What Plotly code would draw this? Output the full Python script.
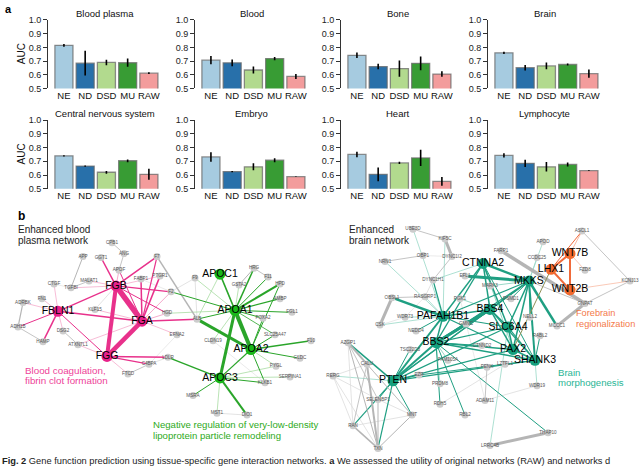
import plotly.graph_objects as go

W, H = 640, 471

# ---------------- panel a data ----------------
methods = ["NE", "ND", "DSD", "MU", "RAW"]
method_colors = ["#a6cbe0", "#2870aa", "#b2da8e", "#389c34", "#f39c9c"]
tissues = ["Blood plasma", "Blood", "Bone", "Brain",
           "Central nervous system", "Embryo", "Heart", "Lymphocyte"]
auc_blood_plasma = [0.815, 0.685, 0.690, 0.688, 0.612]
err_blood_plasma = [0.010, 0.090, 0.020, 0.030, 0.007]
auc_blood = [0.707, 0.687, 0.635, 0.718, 0.588]
err_blood = [0.030, 0.025, 0.025, 0.012, 0.018]
auc_bone = [0.742, 0.660, 0.645, 0.684, 0.605]
err_bone = [0.020, 0.020, 0.060, 0.050, 0.020]
auc_brain = [0.760, 0.652, 0.665, 0.675, 0.608]
err_brain = [0.008, 0.020, 0.025, 0.008, 0.030]
auc_cns = [0.740, 0.665, 0.620, 0.704, 0.605]
err_cns = [0.004, 0.004, 0.010, 0.010, 0.040]
auc_embryo = [0.732, 0.625, 0.660, 0.708, 0.588]
err_embryo = [0.035, 0.005, 0.025, 0.015, 0.002]
auc_heart = [0.750, 0.605, 0.688, 0.725, 0.553]
err_heart = [0.020, 0.050, 0.008, 0.060, 0.032]
auc_lymphocyte = [0.743, 0.685, 0.660, 0.677, 0.632]
err_lymphocyte = [0.015, 0.027, 0.035, 0.015, 0.003]
auc_values = [auc_blood_plasma, auc_blood, auc_bone, auc_brain,
              auc_cns, auc_embryo, auc_heart, auc_lymphocyte]
auc_errors = [err_blood_plasma, err_blood, err_bone, err_brain,
              err_cns, err_embryo, err_heart, err_lymphocyte]
auc_ticks = [0.5, 0.6, 0.7, 0.8, 0.9, 1.0]

# ---------------- panel b: enhanced blood plasma network ----------------
plasma_names = ["FGB", "FGA", "FGG", "FBLN1", "APOC1", "APOA1", "APOA2", "APOC3",
                "CPB1", "ANG", "APP", "GGT1", "F7", "APOF", "FABP1", "PTGR1", "CTGF",
                "TGFBI", "MALAT1", "F9", "F2", "ADRBK", "FN1", "KLF15", "HGD", "ALB",
                "HRG", "F11", "GSTA2", "HPD", "AMBP", "FGL1", "FOXA2", "ADH1B", "HAMP",
                "DSG2", "ATXN7L1", "EFNA2", "CLDN19", "SLC25A47", "F10", "LDLR", "C4BPA",
                "FTCD", "GLDC", "PYGL", "SERPINA1", "KLKB1", "MSRA", "MST1", "DIO1"]
plasma_x = [116, 142, 107, 58, 220, 235, 251, 220,
            112, 124, 83, 101, 157, 119, 141, 160, 54,
            71, 89, 195, 171, 23, 42, 95, 167, 197,
            254, 268, 239, 280, 280, 292, 263, 18, 43,
            63, 78, 177, 213, 275, 311, 168, 149,
            128, 300, 276, 290, 265, 193, 217, 247]
plasma_y = [287, 323, 359, 313, 275, 312, 352, 381,
            243, 254, 257, 258, 257, 271, 280, 277, 285,
            289, 282, 279, 293, 304, 300, 311, 315, 321,
            269, 278, 286, 285, 300, 314, 320, 329, 344,
            333, 347, 337, 343, 337, 343, 360, 367,
            377, 361, 369, 380, 386, 399, 417, 419]
plasma_group = ["pink"] * 4 + ["green"] * 4 + ["gray"] * 43
plasma_edges = [
    ("FGB", "FGA", 5.5, "pink"), ("FGB", "FGG", 4.0, "pink"), ("FGA", "FGG", 4.5, "pink"),
    ("FBLN1", "FGA", 1.5, "pink"), ("FBLN1", "FGB", 1.2, "pink"), ("FBLN1", "FGG", 1.0, "pink"),
    ("FBLN1", "ADH1B", 1.0, "pink"), ("FBLN1", "HAMP", 1.5, "pink"), ("FBLN1", "CTGF", 0.8, "lpink"),
    ("FBLN1", "FN1", 0.8, "lpink"), ("FBLN1", "ADRBK", 0.8, "lpink"), ("FBLN1", "DSG2", 0.8, "lpink"),
    ("FGB", "F7", 1.5, "pink"), ("FGB", "GGT1", 1.5, "pink"), ("FGB", "APOF", 1.0, "lpink"),
    ("FGB", "TGFBI", 0.8, "lpink"), ("FGB", "MALAT1", 0.8, "lpink"), ("FGB", "F2", 1.2, "pink"),
    ("FGB", "HGD", 1.0, "pink"), ("FGB", "PTGR1", 0.8, "lpink"), ("FGA", "F7", 1.2, "pink"),
    ("FGA", "PTGR1", 1.5, "pink"), ("FGA", "FABP1", 1.5, "pink"), ("FGA", "F2", 1.0, "lpink"),
    ("FGA", "HGD", 1.0, "lpink"), ("FGA", "ALB", 1.5, "pink"), ("FGA", "APOF", 1.0, "pink"),
    ("FGA", "EFNA2", 0.8, "lpink"), ("FGA", "ATXN7L1", 0.8, "lpink"), ("FGA", "KLF15", 0.8, "lpink"),
    ("FGG", "LDLR", 1.5, "pink"), ("FGG", "C4BPA", 1.2, "pink"), ("FGG", "FTCD", 0.8, "lpink"),
    ("FGG", "ATXN7L1", 0.8, "lpink"),
    ("CPB1", "ANG", 0.8, "gray"), ("ANG", "APOF", 0.8, "gray"), ("APP", "TGFBI", 1.0, "gray"),
    ("CTGF", "TGFBI", 0.6, "lgray"), ("MALAT1", "TGFBI", 0.8, "gray"), ("ADRBK", "ADH1B", 1.2, "gray"),
    ("ADH1B", "HAMP", 0.8, "gray"), ("DSG2", "ATXN7L1", 0.8, "gray"), ("F7", "ALB", 1.5, "gray"),
    ("F9", "F2", 0.8, "lgray"), ("F9", "ALB", 0.8, "lgray"), ("KLF15", "FGB", 0.8, "lgray"),
    ("C4BPA", "FTCD", 0.8, "gray"), ("C4BPA", "LDLR", 0.8, "lgray"), ("EFNA2", "C4BPA", 0.6, "lgray"),
    ("FABP1", "F2", 0.6, "lgray"), ("HRG", "GSTA2", 1.0, "gray"), ("HRG", "F11", 0.8, "gray"),
    ("MST1", "DIO1", 0.8, "lgray"), ("CLDN19", "KLKB1", 0.6, "lgray"),
    ("APOA1", "APOA2", 4.0, "green"), ("APOA1", "APOC3", 3.0, "green"), ("ALB", "APOA2", 3.0, "green"),
    ("APOA2", "APOC3", 1.2, "green"), ("APOC1", "APOA1", 1.5, "green"), ("APOC1", "ALB", 0.8, "lgreen"),
    ("APOC1", "APOA2", 0.8, "lgreen"), ("APOA1", "HRG", 1.5, "green"), ("APOA1", "HPD", 2.0, "green"),
    ("APOA1", "AMBP", 1.2, "green"), ("APOA1", "FGL1", 1.0, "green"), ("APOA1", "F11", 1.0, "green"),
    ("APOA1", "GSTA2", 0.8, "lgreen"), ("APOA1", "F2", 1.0, "green"), ("APOA1", "F9", 0.8, "lgreen"),
    ("APOA1", "HGD", 0.8, "lgreen"), ("APOA1", "ALB", 1.0, "green"), ("APOA1", "FOXA2", 1.0, "green"),
    ("APOA1", "CLDN19", 0.8, "lgreen"), ("APOA1", "SLC25A47", 0.8, "green"), ("APOA2", "F10", 1.5, "green"),
    ("APOA2", "GLDC", 1.0, "green"), ("APOA2", "SLC25A47", 1.0, "green"), ("APOA2", "FOXA2", 1.0, "green"),
    ("APOA2", "HPD", 1.0, "green"), ("APOA2", "PYGL", 0.8, "lgreen"), ("APOA2", "KLKB1", 1.0, "green"),
    ("APOC3", "LDLR", 1.5, "green"), ("APOC3", "MSRA", 1.0, "green"), ("APOC3", "MST1", 0.8, "lgreen"),
    ("APOC3", "DIO1", 2.0, "green"), ("APOC3", "KLKB1", 1.0, "green"), ("APOC3", "SERPINA1", 0.8, "lgreen"),
    ("APOC3", "PYGL", 0.8, "lgreen"),
]

# ---------------- panel b: enhanced brain network ----------------
brain_names = ["CTNNA2", "MKKS", "PAFAH1B1", "BBS4", "SLC6A4", "BBS2", "PAX2", "SHANK3", "PTEN",
               "WNT7B", "LHX1", "WNT2B",
               "UBE3D", "KIF5C", "OBP1", "NRN1", "DYNC1I2", "APOD", "FARP1", "CCDC25", "ASCL1",
               "FZD8", "KCNJ13", "DYNC1H1", "EFL1", "MARK3", "OBSL1", "RASGRP1", "PGK1", "PSMD1",
               "GNPAT", "WDR73", "CSK", "NELL2", "MCCC1", "GMNC", "NEDD4", "TSC22D3", "CTNND2",
               "RABL2", "AZGP1", "CALU", "FAM105A", "PENK", "LZTFL1", "EZR", "RERG", "PRDM8",
               "SELENBP1", "ADAM11", "WDR19", "RDH5", "RBL2", "MNT", "RAN", "THAP10", "LRRC4B", "TXN"]
brain_x = [483, 529, 443, 490, 508, 436, 513, 535, 393,
           570, 551, 570,
           413, 445, 423, 385, 452, 543, 501, 537, 582,
           585, 630, 433, 465, 490, 392, 425, 460, 511,
           585, 405, 380, 530, 557, 466, 416, 410, 482,
           540, 348, 367, 448, 487, 505, 419, 333, 440,
           378, 485, 537, 440, 465, 412, 353, 548, 490, 378]
brain_y = [264, 282, 318, 311, 329, 345, 352, 363, 384,
           254, 270, 291,
           229, 239, 256, 262, 257, 242, 251, 258, 231,
           271, 282, 281, 277, 287, 299, 298, 300, 300,
           305, 319, 327, 319, 328, 326, 333, 352, 348,
           338, 345, 367, 363, 370, 367, 378, 379, 387,
           403, 404, 389, 408, 419, 419, 430, 437, 450, 453]
brain_group = ["teal"] * 9 + ["orange"] * 3 + ["gray"] * 46
brain_edges = [
    ("CTNNA2", "MKKS", 2.5, "teal"), ("CTNNA2", "BBS4", 1.5, "teal"), ("CTNNA2", "SLC6A4", 1.5, "teal"),
    ("CTNNA2", "PAFAH1B1", 1.5, "teal"), ("CTNNA2", "BBS2", 1.2, "teal"), ("CTNNA2", "PAX2", 1.0, "lteal"),
    ("CTNNA2", "SHANK3", 1.0, "teal"), ("MKKS", "BBS4", 1.5, "teal"), ("MKKS", "SLC6A4", 1.5, "teal"),
    ("MKKS", "PAX2", 1.5, "teal"), ("MKKS", "SHANK3", 2.0, "teal"), ("MKKS", "BBS2", 1.2, "teal"),
    ("MKKS", "PAFAH1B1", 1.2, "teal"), ("MKKS", "PTEN", 1.2, "teal"), ("PAFAH1B1", "BBS4", 1.5, "teal"),
    ("PAFAH1B1", "BBS2", 1.5, "teal"), ("PAFAH1B1", "PTEN", 2.0, "teal"), ("PAFAH1B1", "SLC6A4", 1.2, "teal"),
    ("PAFAH1B1", "PAX2", 1.2, "teal"), ("BBS4", "BBS2", 3.0, "teal"), ("BBS4", "SLC6A4", 1.5, "teal"),
    ("BBS4", "PAX2", 1.5, "teal"), ("BBS4", "PTEN", 1.2, "teal"), ("BBS4", "SHANK3", 1.2, "teal"),
    ("BBS2", "PTEN", 2.0, "teal"), ("BBS2", "PAX2", 1.5, "teal"), ("BBS2", "SHANK3", 1.5, "teal"),
    ("BBS2", "SLC6A4", 1.2, "teal"), ("PTEN", "SHANK3", 1.2, "teal"), ("PTEN", "PAX2", 1.2, "teal"),
    ("PTEN", "SLC6A4", 1.2, "teal"), ("PAX2", "SHANK3", 1.5, "teal"), ("PAX2", "SLC6A4", 1.5, "teal"),
    ("SLC6A4", "SHANK3", 1.2, "teal"),
    ("EFL1", "MKKS", 3.0, "teal"), ("PAFAH1B1", "OBSL1", 2.5, "teal"), ("PAFAH1B1", "DYNC1H1", 1.2, "teal"),
    ("PAFAH1B1", "UBE3D", 0.8, "lteal"), ("PAFAH1B1", "NRN1", 0.8, "lteal"), ("PAFAH1B1", "WDR73", 0.8, "lteal"),
    ("PAFAH1B1", "CSK", 0.8, "lteal"), ("PAFAH1B1", "NEDD4", 1.0, "teal"), ("PAFAH1B1", "RASGRP1", 0.8, "lteal"),
    ("CTNNA2", "DYNC1H1", 0.8, "lteal"), ("KIF5C", "PAFAH1B1", 0.8, "lteal"), ("MKKS", "CCDC25", 0.8, "lteal"),
    ("MKKS", "APOD", 0.8, "lteal"), ("MKKS", "PSMD1", 1.0, "teal"), ("MKKS", "NELL2", 1.0, "teal"),
    ("MKKS", "MCCC1", 2.5, "teal"), ("MKKS", "MARK3", 1.0, "lteal"), ("BBS4", "GMNC", 3.0, "teal"),
    ("BBS4", "PGK1", 1.0, "lteal"), ("BBS2", "GMNC", 2.5, "teal"), ("BBS2", "THAP10", 1.0, "teal"),
    ("BBS2", "RDH5", 1.0, "teal"), ("BBS2", "RBL2", 1.0, "teal"), ("BBS2", "FAM105A", 1.0, "lteal"),
    ("BBS2", "CTNND2", 1.0, "teal"), ("BBS2", "PRDM8", 0.8, "lteal"), ("PTEN", "EZR", 1.2, "teal"),
    ("PTEN", "AZGP1", 1.5, "teal"), ("PTEN", "RERG", 0.8, "lteal"), ("PTEN", "RAN", 1.2, "teal"),
    ("PTEN", "TXN", 1.2, "teal"), ("PTEN", "MNT", 1.0, "teal"), ("PTEN", "SELENBP1", 1.0, "teal"),
    ("PTEN", "TSC22D3", 1.0, "teal"), ("SHANK3", "WDR19", 0.8, "lteal"), ("SHANK3", "RABL2", 1.0, "teal"),
    ("SLC6A4", "LRRC4B", 0.8, "lteal"), ("EZR", "SHANK3", 1.0, "teal"),
    ("UBE3D", "KIF5C", 0.8, "gray"), ("KIF5C", "DYNC1I2", 3.0, "gray"), ("OBP1", "NRN1", 0.8, "gray"),
    ("OBP1", "DYNC1I2", 0.6, "lgray"), ("DYNC1I2", "DYNC1H1", 0.8, "gray"), ("FARP1", "GNPAT", 3.5, "gray"),
    ("GNPAT", "MCCC1", 3.0, "gray"), ("ASCL1", "KCNJ13", 0.8, "gray"), ("KCNJ13", "GNPAT", 0.8, "gray"),
    ("MKKS", "GNPAT", 0.8, "gray"), ("CSK", "OBSL1", 3.0, "gray"), ("CSK", "WDR73", 0.6, "lgray"),
    ("OBSL1", "RASGRP1", 0.8, "gray"), ("RASGRP1", "DYNC1H1", 0.8, "lgray"), ("WDR73", "RASGRP1", 0.6, "lgray"),
    ("AZGP1", "CALU", 2.0, "gray"), ("AZGP1", "TXN", 1.0, "gray"), ("AZGP1", "RAN", 0.8, "lgray"),
    ("AZGP1", "SELENBP1", 0.8, "gray"), ("CALU", "TXN", 2.0, "gray"), ("CALU", "RAN", 0.8, "gray"),
    ("CALU", "MNT", 0.8, "gray"), ("RERG", "CALU", 0.8, "lgray"), ("RERG", "TXN", 0.8, "lgray"),
    ("RERG", "SELENBP1", 0.8, "lgray"), ("SELENBP1", "TXN", 1.0, "gray"), ("SELENBP1", "MNT", 0.8, "lgray"),
    ("RAN", "MNT", 0.8, "lgray"), ("RAN", "TXN", 1.5, "gray"), ("MNT", "TXN", 1.0, "gray"),
    ("RERG", "RAN", 0.8, "lgray"), ("AZGP1", "MNT", 0.8, "lgray"), ("THAP10", "LRRC4B", 3.0, "gray"),
    ("ADAM11", "PENK", 0.8, "gray"), ("ADAM11", "WDR19", 0.8, "lgray"), ("RDH5", "LZTFL1", 0.8, "lgray"),
    ("PGK1", "ADAM11", 0.6, "lgray"),
    ("WNT7B", "LHX1", 2.0, "orange"), ("LHX1", "WNT2B", 2.0, "orange"), ("WNT7B", "WNT2B", 2.0, "orange"),
    ("ASCL1", "WNT7B", 1.0, "lorange"), ("ASCL1", "LHX1", 1.0, "orange"), ("WNT7B", "FZD8", 0.8, "lorange"),
    ("WNT2B", "KCNJ13", 0.8, "lorange"), ("LHX1", "PAX2", 1.0, "olive"),
]

edge_colors = {"pink": "#e8318b", "lpink": "#f5abcc", "green": "#2aa52a", "lgreen": "#a8dca2",
               "gray": "#b5b5b5", "lgray": "#dcdcdc", "teal": "#1f9f82", "lteal": "#98d8c7",
               "orange": "#f06a3a", "lorange": "#f9bba4", "olive": "#8f8f55"}
node_colors = {"pink": "#e8218a", "green": "#18b818", "teal": "#14a07e",
               "orange": "#f26a2e", "gray": "#cccccc"}

fig = go.Figure()

# ---------------- bars ----------------
col_left = [48, 195, 341, 488]
panel_w = 113
row_top = [15.3, 117.7]
row_h = 70
title_y = [9, 110.7]
layout_axes = {}
annotations = []
for i, t in enumerate(tissues):
    r, c = divmod(i, 4)
    n = i + 1
    xa = "x" if n == 1 else f"x{n}"
    ya = "y" if n == 1 else f"y{n}"
    fig.add_trace(go.Bar(
        x=methods, y=auc_values[i], xaxis=xa, yaxis=ya, width=0.85,
        marker=dict(color=method_colors, line=dict(color="rgba(105,105,105,0.75)", width=1.3)),
        error_y=dict(type="data", array=auc_errors[i], color="black", thickness=1.6, width=0),
        showlegend=False, hoverinfo="skip"))
    L = col_left[c]
    top = row_top[r]
    layout_axes["xaxis" if n == 1 else f"xaxis{n}"] = dict(
        domain=[L / W, (L + panel_w) / W], range=[-0.75, 4.57], anchor=ya,
        showline=False, ticks="", showgrid=False, zeroline=False, fixedrange=True,
        tickangle=0, tickfont=dict(size=9.5, color="#111"))
    layout_axes["yaxis" if n == 1 else f"yaxis{n}"] = dict(
        domain=[1 - (top + row_h) / H, 1 - top / H], range=[0.5, 1.0], anchor=xa,
        tickvals=auc_ticks, tickformat=".1f", ticks="outside", ticklen=4, tickwidth=1,
        tickcolor="#333", showline=True, linecolor="#333", linewidth=1, showgrid=False,
        zeroline=False, fixedrange=True, tickfont=dict(size=9, color="#222"))
    annotations.append(dict(text=t, x=(L + panel_w / 2) / W, y=1 - title_y[r] / H,
                            xref="paper", yref="paper", showarrow=False,
                            font=dict(size=9.5, color="#111"), xanchor="center", yanchor="middle"))
    if c == 0:
        annotations.append(dict(text="AUC", x=21 / W, y=1 - (top + row_h / 2) / H,
                                xref="paper", yref="paper", showarrow=False, textangle=-90,
                                font=dict(size=10, color="#111"), xanchor="center", yanchor="middle"))

# ---------------- networks ----------------
NX, NY = "x9", "y9"


def draw_network(names, xs, ys, groups, edges, big_font):
    pos = {nm: (x, y) for nm, x, y in zip(names, xs, ys)}
    for a, b, w, cl in sorted(edges, key=lambda e: e[3] not in ("lgray", "lpink", "lgreen", "lteal", "lorange")):
        fig.add_trace(go.Scatter(x=[pos[a][0], pos[b][0]], y=[pos[a][1], pos[b][1]], mode="lines",
                                 line=dict(color=edge_colors[cl], width=w), xaxis=NX, yaxis=NY,
                                 showlegend=False, hoverinfo="skip"))
    small = [k for k, g in enumerate(groups) if g == "gray"]
    big = [k for k, g in enumerate(groups) if g != "gray"]
    fig.add_trace(go.Scatter(x=[xs[k] for k in small], y=[ys[k] for k in small], mode="markers+text",
                             text=[names[k] for k in small], textposition="middle center",
                             textfont=dict(size=4.6, color="#555"),
                             marker=dict(size=7, color=node_colors["gray"], line=dict(width=0)),
                             xaxis=NX, yaxis=NY, showlegend=False, hoverinfo="skip"))
    fig.add_trace(go.Scatter(x=[xs[k] for k in big], y=[ys[k] for k in big], mode="markers",
                             marker=dict(size=11, color=[node_colors[groups[k]] for k in big], line=dict(width=0)),
                             xaxis=NX, yaxis=NY, showlegend=False, hoverinfo="skip"))
    fig.add_trace(go.Scatter(x=[xs[k] for k in big], y=[ys[k] for k in big], mode="text",
                             text=[names[k] for k in big], textposition="middle center",
                             textfont=dict(size=big_font, color="#000"),
                             xaxis=NX, yaxis=NY, showlegend=False, hoverinfo="skip"))


draw_network(plasma_names, plasma_x, plasma_y, plasma_group, plasma_edges, 10.5)
draw_network(brain_names, brain_x, brain_y, brain_group, brain_edges, 10.5)

layout_axes["xaxis9"] = dict(domain=[0, 1], range=[0, W], anchor="y9", visible=False, fixedrange=True)
layout_axes["yaxis9"] = dict(domain=[0, 1], range=[H, 0], anchor="x9", visible=False, fixedrange=True)


def note(text, x, y, size=10, color="#222", anchor="left"):
    annotations.append(dict(text=text, x=x / W, y=1 - y / H, xref="paper", yref="paper",
                            showarrow=False, font=dict(size=size, color=color),
                            xanchor=anchor, yanchor="middle", align="left"))


note("<b>a</b>", 3, 4, size=11, color="#000")
note("<b>b</b>", 16, 216, size=12, color="#000")
note("Enhanced blood", 16, 229)
note("plasma network", 16, 241)
note("Enhanced", 347, 229)
note("brain network", 347, 241)
note("Blood coagulation,", 23, 373, size=9.8, color="#ee4499")
note("fibrin clot formation", 23, 384, size=9.8, color="#ee4499")
note("Negative regulation of very-low-density", 151, 429, size=9.6, color="#2eaa22")
note("lipoprotein particle remodeling", 151, 440, size=9.6, color="#2eaa22")
note("Forebrain", 574, 315, size=9.2, color="#f47a4a")
note("regionalization", 574, 326, size=9.2, color="#f47a4a")
note("Brain", 556, 375, size=9.6, color="#2ab595")
note("morphogenesis", 556, 386, size=9.6, color="#2ab595")
note("<b>Fig. 2</b> Gene function prediction using tissue-specific gene interaction networks. "
     "<b>a</b> We assessed the utility of original networks (RAW) and networks d",
     0, 466, size=9.3, color="#222")

fig.update_layout(width=W, height=H, margin=dict(l=0, r=0, t=0, b=0),
                  paper_bgcolor="white", plot_bgcolor="rgba(0,0,0,0)",
                  font=dict(family="Liberation Sans, Arial, sans-serif"),
                  annotations=annotations, bargap=0.15, **layout_axes)
fig.write_html("out.html", config={"displayModeBar": False},
               post_script="document.body.style.margin='0px';document.body.style.overflow='hidden';")
